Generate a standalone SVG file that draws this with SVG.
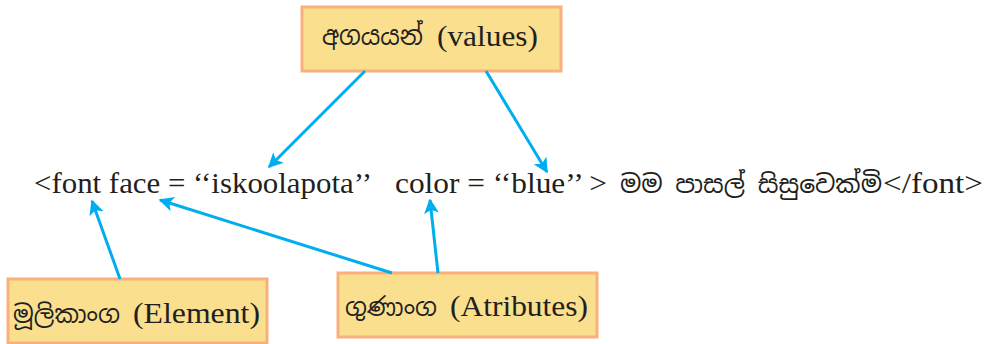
<svg xmlns="http://www.w3.org/2000/svg" width="988" height="344" viewBox="0 0 988 344">
<style>
.box{fill:#FADF8F;stroke:#F9B07C;stroke-width:3}
.t{font-family:"Liberation Serif","Times New Roman",serif;fill:#231F20}
.si{font-family:"Noto Sans Sinhala","Iskoola Pota","Noto Sans","DejaVu Sans",sans-serif;fill:#231F20}
.c{stroke:#00AEEF;stroke-width:3;fill:none}
</style>
<defs>
<marker id="ah" viewBox="0 0 10 10" refX="9" refY="5" markerWidth="6" markerHeight="5" markerUnits="strokeWidth" orient="auto">
<path d="M0,0 L10,5 L0,10 L2.5,5 Z" fill="#00AEEF"/>
</marker>
</defs>
<rect width="988" height="344" fill="#fff"/>
<g id="code">
<text class="t" x="34" y="193" font-size="29" textLength="338" lengthAdjust="spacingAndGlyphs">&lt;font face = ‘‘iskoolapota’’</text>
<text class="t" x="395" y="193" font-size="29" textLength="212" lengthAdjust="spacingAndGlyphs">color = ‘‘blue’’ &gt;</text>
<text class="si" x="620" y="193" font-size="25" textLength="262" lengthAdjust="spacingAndGlyphs">මම පාසල් සිසුවෙක්මි</text>
<text class="t" x="883" y="193" font-size="29" textLength="100" lengthAdjust="spacingAndGlyphs">&lt;/font&gt;</text>
</g>
<g id="values">
<rect class="box" x="302" y="7" width="259" height="64"/>
<text class="si" x="322" y="45" font-size="26" textLength="101" lengthAdjust="spacingAndGlyphs">අගයයන්</text>
<text class="t" x="437" y="46" font-size="30" textLength="101" lengthAdjust="spacingAndGlyphs">(values)</text>
</g>
<g id="element">
<rect class="box" x="8" y="279" width="259" height="64"/>
<text class="si" x="13" y="323" font-size="25" textLength="107" lengthAdjust="spacingAndGlyphs">මූලිකාංග</text>
<text class="t" x="133" y="323" font-size="30" textLength="127" lengthAdjust="spacingAndGlyphs">(Element)</text>
</g>
<g id="attributes">
<rect class="box" x="338" y="273" width="259" height="64"/>
<text class="si" x="345" y="316" font-size="25" textLength="92" lengthAdjust="spacingAndGlyphs">ගුණාංග</text>
<text class="t" x="450" y="316" font-size="30" textLength="138" lengthAdjust="spacingAndGlyphs">(Atributes)</text>
</g>
<g id="connectors">
<line class="c" x1="365" y1="71" x2="269" y2="167" marker-end="url(#ah)"/>
<line class="c" x1="486" y1="71" x2="547" y2="172" marker-end="url(#ah)"/>
<line class="c" x1="120" y1="279" x2="92" y2="201" marker-end="url(#ah)"/>
<line class="c" x1="392" y1="273" x2="160" y2="200" marker-end="url(#ah)"/>
<line class="c" x1="438" y1="273" x2="430" y2="200" marker-end="url(#ah)"/>
</g>
</svg>
